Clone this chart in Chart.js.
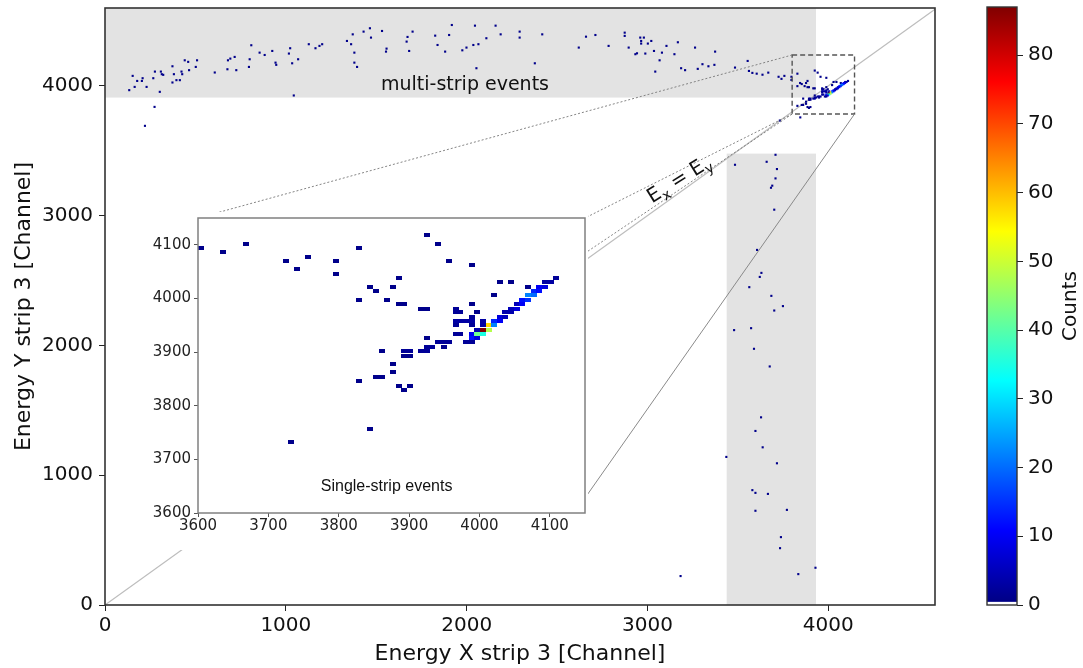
<!DOCTYPE html>
<html><head><meta charset="utf-8">
<script src="https://cdn.jsdelivr.net/npm/chart.js@4.4.1/dist/chart.umd.min.js"></script>
<style>
html,body{margin:0;padding:0;background:#fff;}
#wrap{position:relative;width:1083px;height:668px;overflow:hidden;background:#fff;}
canvas{position:absolute;}
</style></head><body>
<div id="wrap">
<canvas id="main" width="1083" height="668" style="left:0;top:0"></canvas>
<canvas id="inset" width="458" height="338" style="left:130px;top:212px;background:#fff"></canvas>
<canvas id="cbar" width="123" height="668" style="left:960px;top:0"></canvas>
</div>
<script>
// ---------------- data ----------------
const xTicks = [0, 1000, 2000, 3000, 4000];
const yTicks = [0, 1000, 2000, 3000, 4000];
const insetTicks = [3600, 3700, 3800, 3900, 4000, 4100];
const countTicks = [0, 10, 20, 30, 40, 50, 60, 70, 80];
const countRange = [0, 87];

const multiStripX = [134,153,164,178,204,208,230,267,276,309,314,322,373,373,381,395,414,423,427,441,460,465,502,509,607,677,680,693,717,726,796,800,809,855,883,925,943,947,1024,1017,1035,1068,1127,1164,1186,1201,1338,1361,1370,1379,1379,1394,1430,1471,1465,1532,1554,1557,1673,1668,1682,1701,1826,1839,1881,1903,1918,1976,1999,2037,2065,2046,2109,2160,2054,303,1044,2188,2293,2293,2418,2377,2620,2660,2712,2785,2874,2874,2896,2933,2942,2960,2965,2965,2980,2988,3002,3021,3036,3043,3067,3080,3105,3149,3168,3186,3208,3263,3278,3304,3337,3370,3374,3484,3554,3561,3580];
const multiStripY = [3967,4077,3992,4038,4038,4059,3992,4059,4110,4110,4090,4085,4151,4026,4090,4044,4044,4110,4090,4197,4185,4121,4146,4197,4103,4128,4197,4210,4223,4121,4146,4205,4313,4256,4238,4269,4179,4162,4290,4249,4174,4205,4321,4290,4308,4321,4346,4321,4397,4256,4179,4146,4418,4372,4444,4423,4264,4287,4377,4341,4269,4418,4387,4315,4264,4392,4469,4274,4295,4315,4321,4464,4367,4464,4136,3954,3926,4397,4418,4372,4397,4174,4295,4379,4392,4308,4410,4385,4295,4244,4251,4372,4346,4326,4372,4249,4326,4346,4269,4110,4197,4256,4308,4244,4336,4136,4121,4295,4131,4167,4151,4162,4264,4141,4192,4115,4100];

const verticalBandX = [3708,3484,3659,3716,3708,3690,3683,3701,3606,3630,3621,3563,3685,3749,3701,3479,3573,3589,3676,3628,3597,3637,3436,3716,3580,3597,3666,3771,3597,3738,3733,3929,3834];
const verticalBandY = [3469,3392,3415,3359,3287,3231,3215,3046,2736,2559,2528,2449,2382,2303,2269,2118,2133,1974,1838,1446,1341,1215,1141,1092,885,864,856,733,726,523,438,287,238];

const strayX = [221, 274, 3183];
const strayY = [3692, 3838, 223];

const singleX = [3925,3668,3941,3604,3829,3636,3757,3725,3796,3957,3989,3741,3796,3885,4109,4029,4045,4093,4101,3844,3877,4069,4085,4093,3853,4077,4085,4021,4069,4077,3829,3869,4061,4069,3885,3893,3989,4053,4061,3917,3925,3966,4045,4053,3966,3973,3997,4037,4045,3989,4029,4037,3966,3973,3981,3989,4005,4021,4029,3966,3989,4005,4013,4021,3997,4005,4013,3966,3973,3989,3997,4005,3925,3989,3997,3941,3949,3957,3981,3989,3925,3933,3949,3861,3893,3901,3917,3925,3893,3901,3877,3877,3853,3861,3829,3885,3901,3893,3845,3732];
const singleY = [4118,4102,4102,4094,4094,4086,4077,4070,4070,4070,4062,4054,4046,4038,4038,4030,4030,4030,4030,4022,4022,4022,4022,4022,4014,4014,4014,4006,4006,4006,3998,3998,3998,3998,3990,3990,3990,3990,3990,3981,3981,3981,3981,3981,3974,3974,3974,3974,3974,3966,3966,3966,3958,3958,3958,3958,3958,3958,3958,3950,3950,3950,3950,3950,3941,3941,3941,3933,3933,3933,3933,3933,3926,3926,3926,3918,3918,3918,3918,3918,3910,3910,3910,3902,3902,3902,3902,3902,3893,3893,3878,3862,3853,3853,3846,3837,3837,3830,3757,3733];
const singleCount = [1,1,1,1,1,1,1,1,1,1,1,1,1,1,2,1,1,3,3,1,1,1,10,8,1,14,12,1,22,20,1,1,12,15,1,1,1,5,10,1,1,2,5,8,2,2,1,4,4,2,8,5,3,3,3,3,3,14,10,2,2,3,58,22,4,87,48,2,2,10,42,35,1,12,8,2,2,2,2,2,2,2,1,1,2,2,2,2,1,1,1,1,1,1,1,1,1,1,1,1];

// ---------------- layout / style constants ----------------
const FONT = '"DejaVu Sans", "Liberation Sans", sans-serif';
const INSET_LEFT = 130, INSET_TOP = 212;
const BAND_COLOR = '#e3e3e3';
const CELL_W = 8, CELL_H = 7.5;

function jet(v) {
  const t = Math.min(1, Math.max(0, (v - countRange[0]) / (countRange[1] - countRange[0])));
  const c = x => Math.round(255 * Math.min(1, Math.max(0, x)));
  return 'rgb(' + c(1.5 - Math.abs(4*t - 3)) + ',' + c(1.5 - Math.abs(4*t - 2)) + ',' + c(1.5 - Math.abs(4*t - 1)) + ')';
}
const toPts = (xs, ys) => xs.map((x, i) => ({x: x, y: ys[i]}));
const fixedTicks = arr => (s => { s.ticks = arr.map(v => ({value: v})); });
const plain = v => String(v);
const fitV = w => (s => { s.width = w; s.paddingTop = 0; s.paddingBottom = 0; });
const fitH = h => (s => { s.height = h; s.paddingLeft = 0; s.paddingRight = 0; });

const cellCache = {};
function cellImg(color, w, h) {
  const key = color + '|' + w + '|' + h;
  if (!cellCache[key]) {
    const c = document.createElement('canvas');
    c.width = w; c.height = h;
    const g = c.getContext('2d');
    g.fillStyle = color; g.fillRect(0, 0, w, h);
    cellCache[key] = c;
  }
  return cellCache[key];
}

// ---------------- inset chart ----------------
const insetChart = new Chart(document.getElementById('inset'), {
  type: 'scatter',
  data: { datasets: [{
    data: toPts(singleX, singleY),
    pointStyle: ctx => {
      const sx = ctx.chart.scales.x, sy = ctx.chart.scales.y;
      let w = 6, h = 4;
      if (sx && sy && isFinite(sx.getPixelForValue(sx.min))) {
        w = Math.max(1, Math.round(Math.abs(sx.getPixelForValue(sx.min + CELL_W) - sx.getPixelForValue(sx.min))));
        h = Math.max(1, Math.round(Math.abs(sy.getPixelForValue(sy.min + CELL_H) - sy.getPixelForValue(sy.min))));
      }
      return cellImg(jet(singleCount[ctx.dataIndex]), w, h);
    },
    pointRadius: 3, pointHoverRadius: 3, borderWidth: 0
  }]},
  options: {
    responsive: false, animation: false, devicePixelRatio: 1, events: [],
    layout: { padding: { top: 6, right: 2, left: 0, bottom: 0 } },
    plugins: { legend: { display: false }, tooltip: { enabled: false } },
    scales: {
      x: { type: 'linear', min: 3600, max: 4150, afterBuildTicks: fixedTicks(insetTicks),
           afterFit: fitH(37),
           grid: { drawOnChartArea: false, tickLength: 4, tickColor: '#555', color: '#555' },
           border: { display: false },
           ticks: { font: { family: FONT, size: 15 }, color: '#222', padding: 0, maxRotation: 0, autoSkip: false, callback: plain } },
      y: { type: 'linear', min: 3600, max: 4150, afterBuildTicks: fixedTicks(insetTicks),
           afterFit: fitV(68),
           grid: { drawOnChartArea: false, tickLength: 4, tickColor: '#555', color: '#555' },
           border: { display: false },
           ticks: { font: { family: FONT, size: 15 }, color: '#222', padding: 3, autoSkip: false, callback: plain } }
    }
  },
  plugins: [{
    id: 'insetDeco',
    afterDraw(chart) {
      const {ctx, chartArea: a, scales} = chart;
      ctx.save();
      ctx.strokeStyle = '#808080'; ctx.lineWidth = 1.5;
      ctx.strokeRect(a.left, a.top, a.right - a.left, a.bottom - a.top);
      ctx.fillStyle = '#111';
      ctx.font = '16px "Liberation Sans", Arial, sans-serif';
      ctx.textAlign = 'center'; ctx.textBaseline = 'middle';
      ctx.fillText('Single-strip events', scales.x.getPixelForValue(3868), scales.y.getPixelForValue(3649));
      ctx.restore();
    }
  }]
});

// ---------------- main chart ----------------
function dotSet(xs, ys, colors) {
  return { data: toPts(xs, ys), pointStyle: 'rect', pointRadius: 1.5, pointHoverRadius: 1.5,
           borderWidth: 0, pointBackgroundColor: colors, backgroundColor: colors };
}

const mainPlugin = {
  id: 'mainDeco',
  beforeDatasetsDraw(chart) {
    const {ctx, chartArea: a, scales: {x, y}} = chart;
    ctx.save();
    ctx.beginPath(); ctx.rect(a.left, a.top, a.right - a.left, a.bottom - a.top); ctx.clip();
    ctx.fillStyle = BAND_COLOR;
    let x0 = x.getPixelForValue(0), x1 = x.getPixelForValue(3932);
    let y0 = y.getPixelForValue(4600), y1 = y.getPixelForValue(3910);
    ctx.fillRect(x0, y0, x1 - x0, y1 - y0);
    x0 = x.getPixelForValue(3438); x1 = x.getPixelForValue(3932);
    y0 = y.getPixelForValue(3478); y1 = y.getPixelForValue(0);
    ctx.fillRect(x0, y0, x1 - x0, y1 - y0);
    ctx.strokeStyle = '#bdbdbd'; ctx.lineWidth = 1.2;
    ctx.beginPath();
    ctx.moveTo(x.getPixelForValue(0), y.getPixelForValue(0));
    ctx.lineTo(x.getPixelForValue(4600), y.getPixelForValue(4600));
    ctx.stroke();
    ctx.restore();
  },
  afterDraw(chart) {
    const {ctx, chartArea: a, scales: {x, y}} = chart;
    const ix = insetChart.scales.x, iy = insetChart.scales.y;
    const ip = (vx, vy) => [INSET_LEFT + ix.getPixelForValue(vx), INSET_TOP + iy.getPixelForValue(vy)];
    const mp = (vx, vy) => [x.getPixelForValue(vx), y.getPixelForValue(vy)];
    const line = (p, q) => { ctx.beginPath(); ctx.moveTo(p[0], p[1]); ctx.lineTo(q[0], q[1]); ctx.stroke(); };
    ctx.save();
    const bTL = mp(3800, 4238), bBL = mp(3800, 3783), bBR = mp(4145, 3783);
    ctx.strokeStyle = '#555'; ctx.lineWidth = 1.4; ctx.setLineDash([5, 3]);
    ctx.strokeRect(bTL[0], bTL[1], bBR[0] - bTL[0], bBR[1] - bTL[1]);
    ctx.strokeStyle = '#777'; ctx.lineWidth = 0.9; ctx.setLineDash([2, 2]);
    line(bTL, ip(3600, 4150));
    line(bBL, ip(4150, 4150));
    line(bBL, ip(3600, 3600));
    ctx.setLineDash([]);
    ctx.strokeStyle = '#8a8a8a'; ctx.lineWidth = 1;
    line(bBR, ip(4150, 3628));
    ctx.fillStyle = '#111';
    ctx.font = '19px ' + FONT; ctx.textAlign = 'center'; ctx.textBaseline = 'middle';
    const mt = mp(1991, 4008);
    ctx.fillText('multi-strip events', mt[0], mt[1]);
    const lp = mp(3172, 3285);
    ctx.translate(lp[0], lp[1]); ctx.rotate(-32 * Math.PI / 180);
    const big = '20px ' + FONT, small = '14px ' + FONT;
    const parts = [['E', big, 0], ['x', small, 5], [' = ', big, 0], ['E', big, 0], ['y', small, 5]];
    let total = 0;
    parts.forEach(p => { ctx.font = p[1]; total += ctx.measureText(p[0]).width; });
    let cx = -total / 2;
    ctx.textAlign = 'left'; ctx.textBaseline = 'alphabetic';
    parts.forEach(p => { ctx.font = p[1]; ctx.fillText(p[0], cx, 7 + p[2]); cx += ctx.measureText(p[0]).width; });
    ctx.restore();
    ctx.save();
    ctx.strokeStyle = '#333'; ctx.lineWidth = 1.6;
    ctx.strokeRect(a.left, a.top, a.right - a.left, a.bottom - a.top);
    ctx.restore();
  }
};

new Chart(document.getElementById('main'), {
  type: 'scatter',
  data: { datasets: [
    dotSet(multiStripX, multiStripY, jet(1)),
    dotSet(verticalBandX, verticalBandY, jet(1)),
    dotSet(strayX, strayY, jet(1)),
    dotSet(singleX, singleY, singleCount.map(jet))
  ]},
  options: {
    responsive: false, animation: false, devicePixelRatio: 1, events: [],
    layout: { padding: { top: 8, right: 148, left: 0, bottom: 0 } },
    plugins: { legend: { display: false }, tooltip: { enabled: false } },
    scales: {
      x: { type: 'linear', min: 0, max: 4590, afterBuildTicks: fixedTicks(xTicks),
           afterFit: fitH(63),
           grid: { drawOnChartArea: false, tickLength: 6, tickColor: '#222', color: '#222' },
           border: { display: false },
           ticks: { font: { family: FONT, size: 20 }, color: '#111', padding: 3, maxRotation: 0, autoSkip: false, callback: plain },
           title: { display: true, text: 'Energy X strip 3 [Channel]', font: { family: FONT, size: 22 }, color: '#111', padding: { top: 0, bottom: 1 } } },
      y: { type: 'linear', min: 0, max: 4600, afterBuildTicks: fixedTicks(yTicks),
           afterFit: fitV(105),
           grid: { drawOnChartArea: false, tickLength: 6, tickColor: '#222', color: '#222' },
           border: { display: false },
           ticks: { font: { family: FONT, size: 20 }, color: '#111', padding: 6, autoSkip: false, callback: plain },
           title: { display: true, text: 'Energy Y strip 3 [Channel]', font: { family: FONT, size: 22 }, color: '#111', padding: { top: 11, bottom: 0 } } }
    }
  },
  plugins: [mainPlugin]
});

// ---------------- colorbar ----------------
function cbGradient(chart) {
  const a = chart.chartArea;
  if (!a) return jet(countRange[0]);
  const g = chart.ctx.createLinearGradient(0, a.bottom, 0, a.top);
  g.addColorStop(0, '#ffffff');
  g.addColorStop(0.005, '#ffffff');
  const stops = [0.006, 0.125, 0.25, 0.375, 0.5, 0.625, 0.75, 0.875, 1];
  stops.forEach(t => g.addColorStop(t, jet(countRange[0] + t * (countRange[1] - countRange[0]))));
  return g;
}
new Chart(document.getElementById('cbar'), {
  type: 'bar',
  data: { labels: ['Counts'], datasets: [{ data: [countRange], backgroundColor: ctx => cbGradient(ctx.chart),
          barPercentage: 1, categoryPercentage: 1, borderWidth: 0 }] },
  options: {
    responsive: false, animation: false, devicePixelRatio: 1, events: [],
    layout: { padding: { left: 27, top: 7, bottom: 63, right: 0 } },
    plugins: { legend: { display: false }, tooltip: { enabled: false } },
    scales: {
      x: { display: false },
      y: { position: 'right', min: countRange[0], max: countRange[1], afterBuildTicks: fixedTicks(countTicks),
           afterFit: fitV(66),
           grid: { drawOnChartArea: false, tickLength: 6, tickColor: '#222', color: '#222' },
           border: { display: false },
           ticks: { font: { family: FONT, size: 20 }, color: '#111', padding: 5, autoSkip: false, callback: plain } }
    }
  },
  plugins: [{
    id: 'cbDeco',
    afterDraw(chart) {
      const {ctx, chartArea: a} = chart;
      ctx.save();
      ctx.strokeStyle = '#333'; ctx.lineWidth = 1.4;
      ctx.strokeRect(a.left, a.top, a.right - a.left, a.bottom - a.top);
      ctx.translate(111, (a.top + a.bottom) / 2);
      ctx.rotate(-Math.PI / 2);
      ctx.fillStyle = '#111'; ctx.font = '20px ' + FONT;
      ctx.textAlign = 'center'; ctx.textBaseline = 'middle';
      ctx.fillText('Counts', 0, 0);
      ctx.restore();
    }
  }]
});
</script>
</body></html>
